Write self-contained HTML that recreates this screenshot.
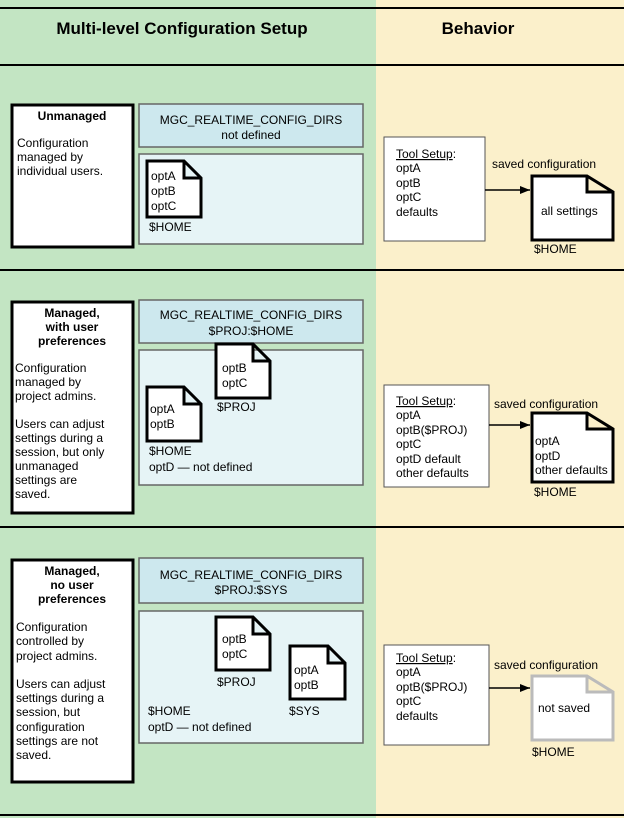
<!DOCTYPE html>
<html><head><style>
html,body{margin:0;padding:0;width:624px;height:818px;overflow:hidden;background:#fff}
svg text{font-family:"Liberation Sans",sans-serif;font-size:12px;fill:#000}
.b{font-weight:bold}
</style></head><body>
<svg width="624" height="818" viewBox="0 0 624 818" xmlns="http://www.w3.org/2000/svg">
<defs><marker id="ar" markerWidth="10" markerHeight="8" refX="10" refY="4" orient="auto" markerUnits="userSpaceOnUse"><path d="M0,0 L10,4 L0,8 z" fill="#000"/></marker></defs>
<rect x="0" y="0" width="376" height="818" fill="#c3e5c3"/>
<rect x="376" y="0" width="248" height="818" fill="#fbf0cb"/>
<line x1="0" y1="8" x2="624" y2="8" stroke="#000" stroke-width="2"/>
<line x1="0" y1="65" x2="624" y2="65" stroke="#000" stroke-width="2"/>
<line x1="0" y1="270" x2="624" y2="270" stroke="#000" stroke-width="2"/>
<line x1="0" y1="527" x2="624" y2="527" stroke="#000" stroke-width="2"/>
<line x1="0" y1="815" x2="624" y2="815" stroke="#000" stroke-width="2"/>
<text x="182" y="34" text-anchor="middle" class="b" style="font-size:17px">Multi-level Configuration Setup</text>
<text x="478" y="34" text-anchor="middle" class="b" style="font-size:17px">Behavior</text>

<!-- Section 1 -->
<rect x="12" y="105" width="121" height="142" fill="#fff" stroke="#000" stroke-width="3"/>
<text x="72" y="120" text-anchor="middle" class="b">Unmanaged</text>
<text x="17" y="147">Configuration</text><text x="17" y="161">managed by</text><text x="17" y="175">individual users.</text>
<rect x="139" y="104" width="224" height="43" fill="#cde8ee" stroke="#666" stroke-width="1.5"/>
<text x="251" y="124" text-anchor="middle">MGC_REALTIME_CONFIG_DIRS</text>
<text x="251" y="139" text-anchor="middle">not defined</text>
<rect x="139" y="154" width="224" height="90" fill="#e6f4f6" stroke="#666" stroke-width="1.5"/>
<path d="M147,161 H184 L201,178 V217 H147 Z M184,161 V178 H201" fill="#fff" stroke="#000" stroke-width="3"/>
<text x="151" y="180">optA</text><text x="151" y="195">optB</text><text x="151" y="210">optC</text>
<text x="149" y="231">$HOME</text>
<rect x="384" y="137" width="101" height="104" fill="#fff" stroke="#555" stroke-width="1"/>
<text x="396" y="158"><tspan text-decoration="underline">Tool Setup</tspan>:</text>
<text x="396" y="172">optA</text><text x="396" y="187">optB</text><text x="396" y="201">optC</text><text x="396" y="216">defaults</text>
<text x="492" y="168">saved configuration</text>
<line x1="485" y1="190" x2="530" y2="190" stroke="#000" stroke-width="1.5" marker-end="url(#ar)"/>
<path d="M532,176 H587 L613,192 V240 H532 Z M587,176 V192 H613" fill="#fff" stroke="#000" stroke-width="3"/>
<text x="541" y="215">all settings</text>
<text x="534" y="253">$HOME</text>

<!-- Section 2 -->
<rect x="12" y="302" width="121" height="211" fill="#fff" stroke="#000" stroke-width="3"/>
<text x="72" y="317" text-anchor="middle" class="b">Managed,</text>
<text x="72" y="331" text-anchor="middle" class="b">with user</text>
<text x="72" y="345" text-anchor="middle" class="b">preferences</text>
<text x="15" y="372">Configuration</text><text x="15" y="386">managed by</text><text x="15" y="400">project admins.</text>
<text x="15" y="428">Users can adjust</text><text x="15" y="442">settings during a</text><text x="15" y="456">session, but only</text><text x="15" y="470">unmanaged</text><text x="15" y="484">settings are</text><text x="15" y="498">saved.</text>
<rect x="139" y="300" width="224" height="43" fill="#cde8ee" stroke="#666" stroke-width="1.5"/>
<text x="251" y="319" text-anchor="middle">MGC_REALTIME_CONFIG_DIRS</text>
<text x="251" y="335" text-anchor="middle">$PROJ:$HOME</text>
<rect x="139" y="350" width="224" height="135" fill="#e6f4f6" stroke="#666" stroke-width="1.5"/>
<path d="M147,387 H184 L201,404 V441 H147 Z M184,387 V404 H201" fill="#fff" stroke="#000" stroke-width="3"/>
<text x="150" y="413">optA</text><text x="150" y="428">optB</text>
<text x="149" y="455">$HOME</text>
<path d="M216,344 H253 L270,361 V398 H216 Z M253,344 V361 H270" fill="#fff" stroke="#000" stroke-width="3"/>
<text x="222" y="372">optB</text><text x="222" y="387">optC</text>
<text x="217" y="411">$PROJ</text>
<text x="149" y="471">optD — not defined</text>
<rect x="384" y="385" width="105" height="102" fill="#fff" stroke="#555" stroke-width="1"/>
<text x="396" y="405"><tspan text-decoration="underline">Tool Setup</tspan>:</text>
<text x="396" y="419">optA</text><text x="396" y="434">optB($PROJ)</text><text x="396" y="448">optC</text><text x="396" y="463">optD default</text><text x="396" y="477">other defaults</text>
<text x="494" y="408">saved configuration</text>
<line x1="489" y1="425" x2="530" y2="425" stroke="#000" stroke-width="1.5" marker-end="url(#ar)"/>
<path d="M532,413 H587 L613,429 V482 H532 Z M587,413 V429 H613" fill="#fff" stroke="#000" stroke-width="3"/>
<text x="535" y="445">optA</text><text x="535" y="460">optD</text><text x="535" y="474">other defaults</text>
<text x="534" y="496">$HOME</text>

<!-- Section 3 -->
<rect x="12" y="560" width="121" height="222" fill="#fff" stroke="#000" stroke-width="3"/>
<text x="72" y="575" text-anchor="middle" class="b">Managed,</text>
<text x="72" y="589" text-anchor="middle" class="b">no user</text>
<text x="72" y="603" text-anchor="middle" class="b">preferences</text>
<text x="16" y="631">Configuration</text><text x="16" y="645">controlled by</text><text x="16" y="660">project admins.</text>
<text x="16" y="688">Users can adjust</text><text x="16" y="702">settings during a</text><text x="16" y="716">session, but</text><text x="16" y="731">configuration</text><text x="16" y="745">settings are not</text><text x="16" y="759">saved.</text>
<rect x="139" y="558" width="224" height="45" fill="#cde8ee" stroke="#666" stroke-width="1.5"/>
<text x="251" y="579" text-anchor="middle">MGC_REALTIME_CONFIG_DIRS</text>
<text x="251" y="594" text-anchor="middle">$PROJ:$SYS</text>
<rect x="139" y="611" width="224" height="132" fill="#e6f4f6" stroke="#666" stroke-width="1.5"/>
<path d="M216,617 H253 L270,634 V670 H216 Z M253,617 V634 H270" fill="#fff" stroke="#000" stroke-width="3"/>
<text x="222" y="643">optB</text><text x="222" y="658">optC</text>
<text x="217" y="686">$PROJ</text>
<path d="M290,646 H328 L345,663 V699 H290 Z M328,646 V663 H345" fill="#fff" stroke="#000" stroke-width="3"/>
<text x="294" y="674">optA</text><text x="294" y="689">optB</text>
<text x="289" y="715">$SYS</text>
<text x="148" y="715">$HOME</text>
<text x="148" y="731">optD — not defined</text>
<rect x="384" y="645" width="105" height="100" fill="#fff" stroke="#555" stroke-width="1"/>
<text x="396" y="662"><tspan text-decoration="underline">Tool Setup</tspan>:</text>
<text x="396" y="676">optA</text><text x="396" y="691">optB($PROJ)</text><text x="396" y="705">optC</text><text x="396" y="720">defaults</text>
<text x="494" y="669">saved configuration</text>
<line x1="489" y1="688" x2="530" y2="688" stroke="#000" stroke-width="1.5" marker-end="url(#ar)"/>
<path d="M532,676 H587 L613,692 V740 H532 Z M587,676 V692 H613" fill="#fff" stroke="#bbb" stroke-width="3"/>
<text x="538" y="712">not saved</text>
<text x="532" y="756">$HOME</text>
</svg>
</body></html>
